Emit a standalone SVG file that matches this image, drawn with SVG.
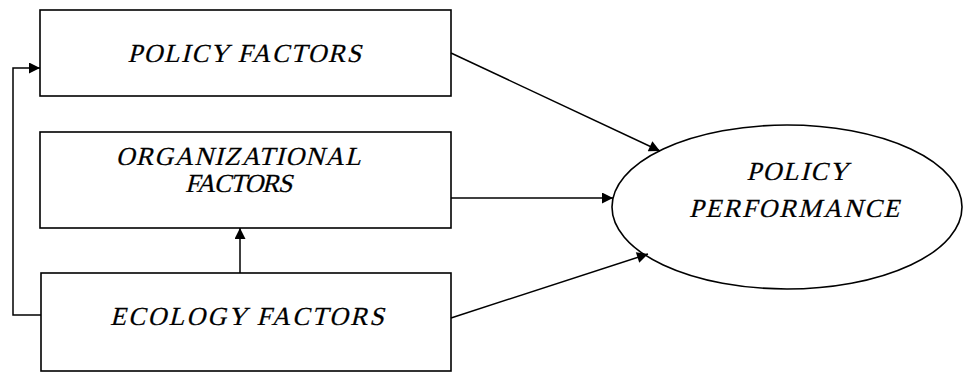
<svg xmlns="http://www.w3.org/2000/svg" width="971" height="373" viewBox="0 0 971 373">
<style>
.box{fill:#fff;stroke:#000;stroke-width:1.6}
.t{font-family:"Liberation Serif","Times New Roman",serif;font-style:normal;font-size:26px;fill:#000;stroke:#000;stroke-width:0.25;text-anchor:middle}
.c{fill:none;stroke:#000;stroke-width:1.5}
</style>
<defs>
<marker id="ah2" viewBox="0 0 10 10" refX="10" refY="5" markerWidth="13" markerHeight="11" markerUnits="userSpaceOnUse" orient="auto">
<path d="M0,0 L10,5 L0,10 z" fill="#000"/>
</marker>
</defs>
<rect width="971" height="373" fill="#fff"/>
<g id="policy-factors">
<rect class="box" x="40" y="10" width="411" height="86"/>
<text class="t" transform="translate(245,62) skewX(-14)" letter-spacing="1.5">POLICY FACTORS</text>
</g>
<g id="organizational-factors">
<rect class="box" x="40" y="132" width="411" height="96"/>
<text class="t" transform="translate(239,165) skewX(-14)" letter-spacing="1.2">ORGANIZATIONAL</text>
<text class="t" transform="translate(238,192) skewX(-14)" letter-spacing="-1.2">FACTORS</text>
</g>
<g id="ecology-factors">
<rect class="box" x="41" y="273" width="410" height="98"/>
<text class="t" transform="translate(248,325) skewX(-14)" letter-spacing="2.1">ECOLOGY FACTORS</text>
</g>
<g id="policy-performance">
<ellipse class="box" cx="787" cy="207" rx="175" ry="82"/>
<text class="t" transform="translate(798,180) skewX(-14)" letter-spacing="1.5">POLICY</text>
<text class="t" transform="translate(795,217) skewX(-14)" letter-spacing="1.8">PERFORMANCE</text>
</g>
<g id="connectors">
<polyline class="c" points="41,315 13,315 13,68 40,68" marker-end="url(#ah2)"/>
<line class="c" x1="240" y1="273" x2="240" y2="228" marker-end="url(#ah2)"/>
<line class="c" x1="451" y1="53" x2="660" y2="151" marker-end="url(#ah2)"/>
<line class="c" x1="451" y1="198" x2="613" y2="198" marker-end="url(#ah2)"/>
<line class="c" x1="451" y1="318" x2="648" y2="254" marker-end="url(#ah2)"/>
</g>
</svg>
